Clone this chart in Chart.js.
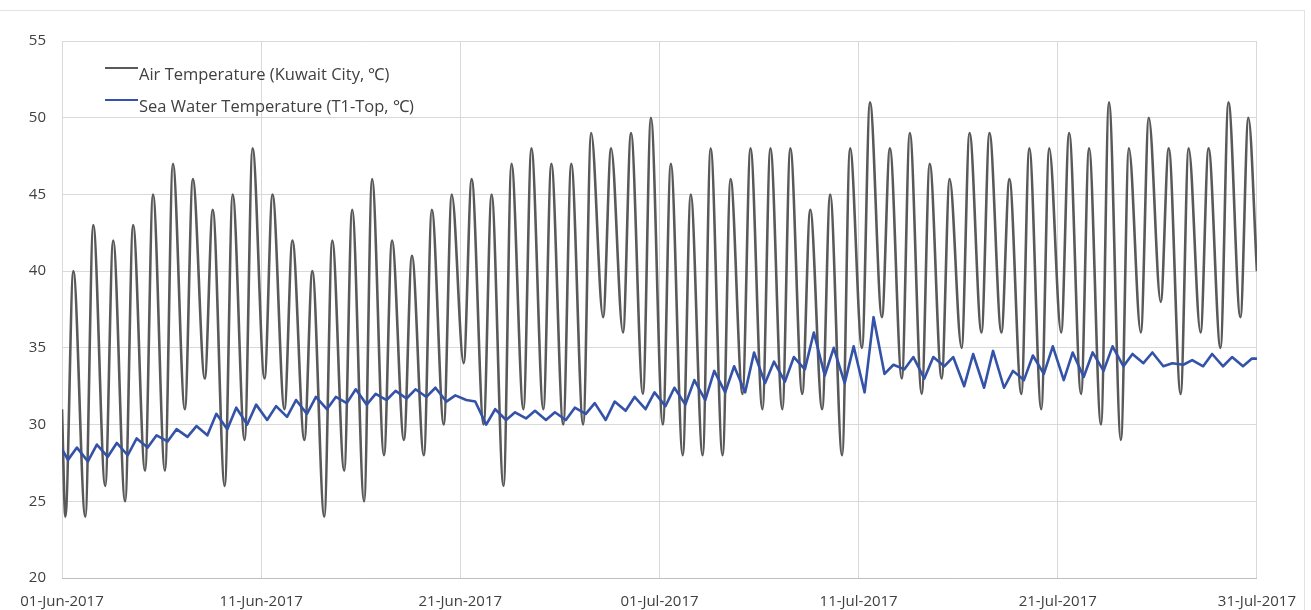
<!DOCTYPE html>
<html>
<head>
<meta charset="utf-8">
<script src="https://cdn.jsdelivr.net/npm/chart.js@4.4.1/dist/chart.umd.min.js"></script>
<style>
  html, body { margin: 0; padding: 0; background: #fff; }
  #wrap { position: relative; width: 1311px; height: 610px; }
  #frame { position: absolute; left: 0; top: 10px; width: 1305px; height: 600px;
           border-top: 1px solid #e3e3e3; border-right: 1px solid #e3e3e3; box-sizing: border-box; }
  #legend { position: absolute; left: 105px; top: 60px; font-family: "Open Sans", sans-serif;
            font-size: 16.5px; color: #404040; }
  #legend div { display: flex; align-items: center; height: 26px; margin-bottom: 6px; }
  #legend span.sw { display: inline-block; width: 33px; height: 2px; margin-right: 1px; position: relative; top: -5px; }
</style>
</head>
<body>
<div id="wrap">
  <div id="frame"></div>
  <canvas id="tempChart"></canvas>
  <div id="legend"></div>
</div>
<script>
// x axis: days since 01-Jun-2017 00:00
const tickLabels = ['01-Jun-2017', '11-Jun-2017', '21-Jun-2017', '01-Jul-2017', '11-Jul-2017', '21-Jul-2017', '31-Jul-2017'];

// Air temperature, daily early-morning low and afternoon high (Kuwait City)
const airStart = 31, airEnd = 40;
const airMin = [24, 24, 26, 25, 27, 27, 31, 33, 26, 29,
                33, 31, 29, 24, 27, 25, 28, 29, 28, 30,
                34, 30, 26, 31, 31, 30, 30, 37, 36, 32,
                30, 28, 28, 28, 32, 31, 31, 32, 31, 28,
                35, 37, 33, 32, 33, 35, 36, 36, 32, 31,
                36, 32, 30, 29, 36, 38, 32, 36, 35, 37];
const airMax = [40, 43, 42, 43, 45, 47, 46, 44, 45, 48,
                45, 42, 40, 42, 44, 46, 42, 41, 44, 45,
                46, 45, 47, 48, 47, 47, 49, 48, 49, 50,
                47, 45, 48, 46, 48, 48, 48, 44, 45, 48,
                51, 48, 49, 47, 46, 49, 49, 46, 48, 48,
                49, 48, 51, 48, 50, 48, 48, 48, 51, 50];

// Sea water temperature (T1-Top), morning and evening readings
const seaStart = 28.4, seaEnd = 34.3;
const seaMorning = [27.7, 27.6, 27.9, 28.0, 28.5, 28.9, 29.2, 29.3, 29.7, 30.0,
                    30.3, 30.5, 30.7, 31.0, 31.4, 31.3, 31.6, 31.7, 31.8, 31.5,
                    31.6, 30.0, 30.3, 30.4, 30.3, 30.3, 30.7, 30.3, 30.9, 31.0,
                    31.2, 31.3, 31.6, 32.1, 32.1, 32.7, 32.8, 33.6, 33.2, 32.7,
                    32.1, 33.3, 33.6, 33.0, 33.8, 32.5, 32.4, 32.4, 32.9, 33.3,
                    32.9, 33.1, 33.5, 33.8, 34.0, 33.8, 33.9, 33.8, 33.8, 33.8];
const seaEvening = [28.5, 28.7, 28.8, 29.1, 29.3, 29.7, 29.9, 30.7, 31.1, 31.3,
                    31.2, 31.6, 31.8, 31.8, 32.3, 32.0, 32.2, 32.3, 32.4, 31.9,
                    31.5, 31.0, 30.8, 30.9, 30.8, 31.1, 31.4, 31.5, 31.8, 32.1,
                    32.4, 32.9, 33.5, 33.8, 34.7, 34.1, 34.4, 36.0, 35.0, 35.1,
                    37.0, 33.9, 34.4, 34.4, 34.4, 34.6, 34.8, 33.5, 34.5, 35.1,
                    34.7, 34.7, 35.1, 34.6, 34.7, 34.0, 34.2, 34.6, 34.4, 34.3];

function buildSeries(start, end, a, b, pa, pb) {
  const pts = [{ x: 0, y: start }];
  for (let d = 0; d < a.length; d++) {
    pts.push({ x: d + pa, y: a[d] });
    pts.push({ x: d + pb, y: b[d] });
  }
  pts.push({ x: a.length, y: end });
  return pts;
}

const airData = buildSeries(airStart, airEnd, airMin, airMax, 0.17, 0.57);
const seaData = buildSeries(seaStart, seaEnd, seaMorning, seaEvening, 0.3, 0.75);

const datasets = [
  { label: 'Air Temperature (Kuwait City, \u2103)', data: airData, borderColor: '#595959', borderWidth: 2.6,
    cubicInterpolationMode: 'monotone', order: 2 },
  { label: 'Sea Water Temperature (T1-Top, \u2103)', data: seaData, borderColor: '#3352a8', borderWidth: 2.6, order: 1 }
];

const ctx = document.getElementById('tempChart').getContext('2d');
new Chart(ctx, {
  type: 'line',
  data: { datasets: datasets },
  options: {
    responsive: true,
    maintainAspectRatio: false,
    animation: false,
    elements: { point: { radius: 0 }, line: { tension: 0, borderJoinStyle: 'round' } },
    layout: { padding: { top: 41, right: 53, left: 0, bottom: 0 } },
    plugins: { legend: { display: false }, tooltip: { enabled: false } },
    scales: {
      x: {
        type: 'linear', min: 0, max: 60,
        afterBuildTicks: function(scale) {
          scale.ticks = tickLabels.map(function(t, i) { return { value: i * 10 }; });
        },
        afterFit: function(scale) { scale.height = 32; },
        grid: { color: '#d9d9d9', drawTicks: false },
        border: { color: '#bfbfbf' },
        ticks: {
          maxRotation: 0, autoSkip: false, padding: 15, color: '#404040',
          font: { family: 'Open Sans', size: 15 },
          callback: function(v) { return tickLabels[Math.round(v / 10)]; }
        }
      },
      y: {
        min: 20, max: 55,
        afterFit: function(scale) { scale.width = 62; },
        grid: { color: '#d9d9d9', drawTicks: false },
        border: { display: false },
        ticks: { stepSize: 5, padding: 16, color: '#404040', font: { family: 'Open Sans', size: 15 } }
      }
    }
  }
});

// legend inside the plot area
const legend = document.getElementById('legend');
datasets.forEach(function(ds) {
  const row = document.createElement('div');
  row.innerHTML = '<span class="sw" style="background:' + ds.borderColor + '"></span>' + ds.label;
  legend.appendChild(row);
});
</script>
</body>
</html>
